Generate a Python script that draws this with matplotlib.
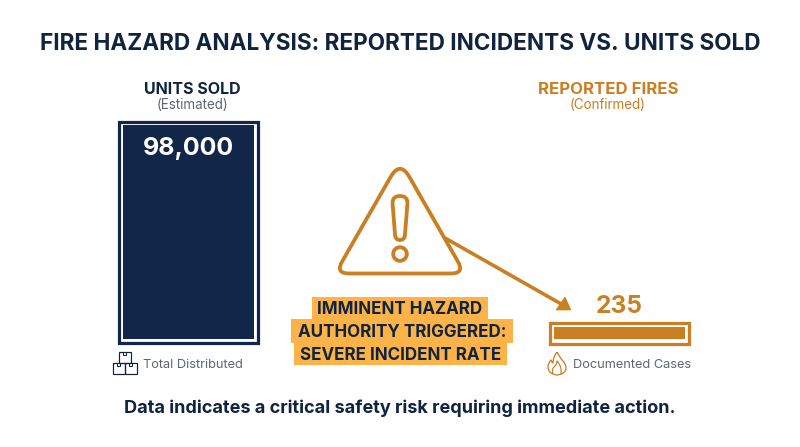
import matplotlib
matplotlib.use("Agg")
import matplotlib.pyplot as plt
from matplotlib.patches import Circle, PathPatch, Polygon, Rectangle
from matplotlib.path import Path

NAVY = "#12264a"
INK = "#10233f"
ORANGE = "#c97f22"
HIGHLIGHT = "#fdb347"
GREY = "#5c6673"

W, H = 800, 447

title = "FIRE HAZARD ANALYSIS: REPORTED INCIDENTS VS. UNITS SOLD"
footer = "Data indicates a critical safety risk requiring immediate action."
categories = ["UNITS SOLD", "REPORTED FIRES"]
subtitles = ["(Estimated)", "(Confirmed)"]
values = [98000, 235]
value_labels = ["98,000", "235"]
captions = ["Total Distributed", "Documented Cases"]
alert_lines = ["IMMINENT HAZARD", "AUTHORITY TRIGGERED:", "SEVERE INCIDENT RATE"]

plt.rcParams["font.family"] = ["Inter", "Open Sans", "DejaVu Sans"]

fig = plt.figure(figsize=(W / 100, H / 100), dpi=100, facecolor="white")

# Full canvas in pixel coordinates, y pointing down, kept above the bar axes
ax = fig.add_axes([0, 0, 1, 1], zorder=5)
ax.set_xlim(0, W)
ax.set_ylim(H, 0)
ax.axis("off")


def px(size):
    return size * 0.72


# Each bar sits in its own axes, scaled to its own value (the bars are not to a shared scale)
def value_bar(left, top, right, bottom, value, color):
    bar_ax = fig.add_axes([left / W, 1 - bottom / H, (right - left) / W, (bottom - top) / H], zorder=1)
    bar_ax.bar([0], [value], width=1, color=color)
    bar_ax.set_xlim(-0.5, 0.5)
    bar_ax.set_ylim(0, value)
    bar_ax.axis("off")


ax.add_patch(Rectangle((118.5, 121.5), 139, 221.5, fill=False, ec=NAVY, lw=px(3.2)))
value_bar(123, 125, 254, 339, values[0], NAVY)
ax.add_patch(Rectangle((549.5, 322.5), 139, 21, fill=False, ec=ORANGE, lw=px(3.2)))
value_bar(554, 326.5, 685, 339, values[1], ORANGE)

# Text
ax.text(400, 43.5, title, ha="center", va="center", color=INK, fontsize=px(22.6), fontweight="bold")
ax.text(192.5, 89.5, categories[0], ha="center", va="center", color=INK, fontsize=px(16), fontweight="bold")
ax.text(192.5, 105, subtitles[0], ha="center", va="center", color=GREY, fontsize=px(13.4))
ax.text(608, 89.5, categories[1], ha="center", va="center", color=ORANGE, fontsize=px(16.8), fontweight="bold")
ax.text(608, 105, subtitles[1], ha="center", va="center", color=ORANGE, fontsize=px(13.4))
ax.text(188, 148, value_labels[0], ha="center", va="center", color="white", fontsize=px(25), fontweight="bold")
ax.text(619, 306.5, value_labels[1], ha="center", va="center", color=ORANGE, fontsize=px(24.5), fontweight="bold")
ax.text(143, 365, captions[0], ha="left", va="center", color=GREY, fontsize=px(12.8))
ax.text(573, 365.5, captions[1], ha="left", va="center", color=GREY, fontsize=px(12.8))
ax.text(400, 408.5, footer, ha="center", va="center", color=INK, fontsize=px(18.1), fontweight="bold")

# Highlighted alert text
boxes = [(312, 297, 488, 319), (291, 319, 513, 343), (293.5, 343, 507, 365)]
for line, (x0, y0, x1, y1) in zip(alert_lines, boxes):
    ax.add_patch(Rectangle((x0, y0), x1 - x0, y1 - y0, fc=HIGHLIGHT, ec="none"))
    ax.text((x0 + x1) / 2, (y0 + y1) / 2 + 1.5, line, ha="center", va="center", color=INK,
            fontsize=px(17), fontweight="bold")

# Warning triangle with rounded corners
MV, LN, CV = Path.MOVETO, Path.LINETO, Path.CURVE3
tri = Path(
    [(390.3, 177.5), (400, 160), (409.7, 177.5), (457.7, 261.2), (465, 273.5), (451, 273.5),
     (349, 273.5), (335, 273.5), (342.3, 261.2), (390.3, 177.5)],
    [MV, CV, CV, LN, CV, CV, LN, CV, CV, LN],
)
ax.add_patch(PathPatch(tri, fill=False, ec=ORANGE, lw=px(3.8), joinstyle="round"))
mark = Path(
    [(392.5, 203), (392.5, 196), (400, 196), (407.5, 196), (407.5, 203), (405, 234), (405, 240),
     (400, 240), (395, 240), (395, 234), (392.5, 203)],
    [MV, CV, CV, CV, CV, LN, CV, CV, CV, CV, LN],
)
ax.add_patch(PathPatch(mark, fill=False, ec=ORANGE, lw=px(3.8), joinstyle="round"))
ax.add_patch(Circle((400, 254), 6.8, fill=False, ec=ORANGE, lw=px(3.8)))

# Arrow from the triangle to the small bar
ax.plot([445, 563], [238, 305], color=ORANGE, lw=px(3.6), solid_capstyle="butt")
ax.add_patch(Polygon([(556, 310), (571, 310), (565, 297)], fc=ORANGE, ec=ORANGE, lw=0.5))

# Box icon
for x, y in [(118.5, 351.5), (112.5, 362.5), (124.5, 362.5)]:
    ax.add_patch(Rectangle((x, y), 12, 11, fill=False, ec=INK, lw=px(1.2)))
    ax.add_patch(Rectangle((x + 4.2, y), 3.6, 3, fill=False, ec=INK, lw=px(1.0)))

# Flame icon
flame = Path(
    [(557, 352), (560, 358), (563, 361), (566, 364), (566, 368), (566, 374), (557, 375),
     (548, 374), (548, 367), (548, 363), (551, 360), (552, 363), (553, 363), (553, 357), (557, 352)],
    [MV, CV, CV, CV, CV, CV, CV, CV, CV, CV, CV, CV, CV, CV, CV],
)
ax.add_patch(PathPatch(flame, fill=False, ec=ORANGE, lw=px(1.3), joinstyle="round"))
inner = Path(
    [(553, 374), (551, 369), (555, 366), (557, 364), (557, 361), (562, 366), (561, 374)],
    [MV, CV, CV, CV, CV, CV, CV],
)
ax.add_patch(PathPatch(inner, fill=False, ec=ORANGE, lw=px(1.2), joinstyle="round"))

fig.savefig("out.png", dpi=100, facecolor="white")
